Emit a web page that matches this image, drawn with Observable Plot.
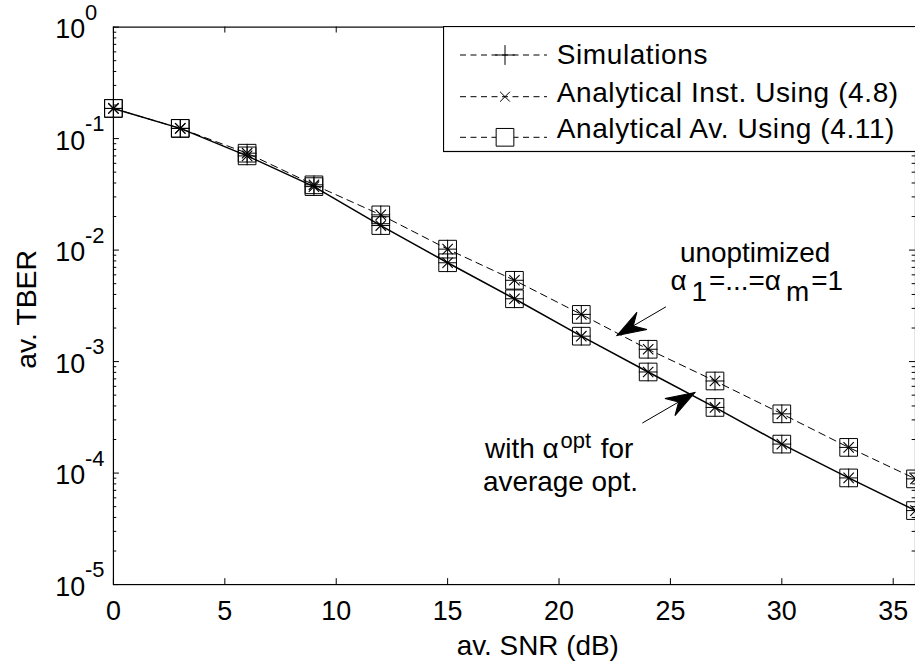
<!DOCTYPE html>
<html><head><meta charset="utf-8">
<script src="https://cdn.jsdelivr.net/npm/d3@7"></script>
<script src="https://cdn.jsdelivr.net/npm/@observablehq/plot@0.6"></script>
<style>
html,body{margin:0;padding:0;background:#fff;overflow:hidden;}
#wrap{position:relative;width:915px;height:668px;overflow:hidden;}
#wrap svg{display:block;}
#legend{position:absolute;left:443px;top:26px;}
</style></head><body><div id="wrap"></div>
<script>
// ---- data ----
const snr = [0, 3, 6, 9, 12, 15, 18, 21, 24, 27, 30, 33, 36];
// optimized (alpha_opt, solid curve) — simulation & both analytical results coincide
const berOpt = [0.1865, 0.1235, 0.0700, 0.0371, 0.0166, 0.0077, 0.00366, 0.00169, 0.000807, 0.000388, 0.000182, 0.0000905, 0.0000461];
// unoptimized (alpha_1=...=alpha_m=1, dashed curve)
const berUnopt = [0.1865, 0.1235, 0.0740, 0.0385, 0.0207, 0.0102, 0.00536, 0.00265, 0.00129, 0.00067, 0.00034, 0.00017, 0.0000887];
const seriesNames = ["Simulations", "Analytical Inst. Using (4.8)", "Analytical Av. Using (4.11)"];
const seriesSymbols = ["plus", "times", "square"];
const xTicks = [0, 5, 10, 15, 20, 25, 30, 35];
const yTicks = [1, 0.1, 0.01, 0.001, 0.0001, 0.00001];
const yTickBase = "10";
const yTickExp = ["0", "-1", "-2", "-3", "-4", "-5"];
const xLabel = "av. SNR (dB)";
const yLabel = "av. TBER";
// annotations (data coordinates)
const annCenterText = ["unoptimized"];
const annCenterX = [28.8];
const annCenterY = [0.00948];
const annStartText = ["α_{1}=...=α_{m}=1", "with α^{opt} for", "average opt."];
const annStartX = [25.0, 16.68, 16.59];
const annStartY = [0.00528, 0.000165, 0.0000832];
const arrowTail = [[24.8, 0.0031], [23.74, 0.000281]];
const arrowTip = [[22.6, 0.001718], [26.1, 0.000528]];
const arrowAngle = [149.8, -30.2];

// ---- build ----
const optRows = snr.map((s, i) => ({snr: s, ber: berOpt[i]}));
const unoptRows = snr.map((s, i) => ({snr: s, ber: berUnopt[i]}));
const allPts = optRows.concat(unoptRows);
const minorY = d3.range(-5, 0).flatMap(e => d3.range(2, 10).map(k => k * Math.pow(10, e)));
const arrows = arrowTail.map((t, i) => ({x1: t[0], y1: t[1], x2: arrowTip[i][0], y2: arrowTip[i][1], a: arrowAngle[i]}));
const annC = annCenterText.map((t, i) => ({t, x: annCenterX[i], y: annCenterY[i]}));
const annS = annStartText.map((t, i) => ({t, x: annStartX[i], y: annStartY[i]}));

const arrowHead = {
  draw(ctx) {
    const L = 29, W = 10, N = 19;
    ctx.moveTo(0, 0);
    ctx.lineTo(-L, -W);
    ctx.lineTo(-N, 0);
    ctx.lineTo(-L, W);
    ctx.closePath();
  }
};

const font = "'Liberation Sans', Arial, Helvetica, sans-serif";
const black = "black";

const chart = Plot.plot({
  width: 918, height: 668,
  marginLeft: 113.3, marginRight: 0, marginTop: 26.7, marginBottom: 82,
  x: {domain: [0, 36], axis: null},
  y: {type: "log", domain: [1e-5, 1], axis: null},
  style: {fontFamily: font, background: "white", color: "black", overflow: "visible"},
  marks: [
    // ticks (inward)
    Plot.ruleY(yTicks, {y: d => d, x1: 0, x2: 0.27, stroke: black}),
    Plot.ruleY(yTicks, {y: d => d, x1: 35.73, x2: 36, stroke: black}),
    Plot.ruleY(minorY, {y: d => d, x1: 0, x2: 0.15, stroke: black}),
    Plot.ruleY(minorY, {y: d => d, x1: 35.85, x2: 36, stroke: black}),
    Plot.ruleX(xTicks, {x: d => d, y1: 1e-5, y2: 1.13e-5, stroke: black}),
    Plot.ruleX(xTicks, {x: d => d, y1: 1, y2: 1 / 1.13, stroke: black}),
    // curves
    Plot.line(optRows, {x: "snr", y: "ber", stroke: black, strokeWidth: 1.5}),
    Plot.line(unoptRows, {x: "snr", y: "ber", stroke: black, strokeWidth: 1, strokeDasharray: "7,5"}),
    // markers of the three series
    Plot.dot(allPts, {x: "snr", y: "ber", symbol: "square", r: 10, fill: "none", stroke: black, strokeWidth: 1}),
    Plot.dot(allPts, {x: "snr", y: "ber", symbol: "plus", r: 6.1, stroke: black, strokeWidth: 1}),
    Plot.dot(allPts, {x: "snr", y: "ber", symbol: "times", r: 4.8, stroke: black, strokeWidth: 1.1}),
    Plot.frame({stroke: black, strokeWidth: 1.2}),
    // tick labels
    Plot.text(xTicks, {x: d => d, y: 1e-5, dy: 27, text: d => String(d), fontSize: 27, fill: black}),
    Plot.text(yTicks, {x: 0, y: d => d, text: () => yTickBase, textAnchor: "start", dx: -58.3, dy: 2.7, fontSize: 27, fill: black}),
    Plot.text(yTicks, {x: 0, y: d => d, text: (d, i) => yTickExp[i], textAnchor: "start", dx: -28.5, dy: -14.3, fontSize: 22, fill: black}),
    // axis labels
    Plot.text([xLabel], {frameAnchor: "bottom", lineAnchor: "middle", textAnchor: "middle", text: d => d, dx: 23.4, dy: 62, fontSize: 28, fill: black}),
    Plot.text([yLabel], {frameAnchor: "left", lineAnchor: "middle", textAnchor: "middle", text: d => d, rotate: -90, dx: -87, dy: 3.6, fontSize: 28.5, fill: black}),
    // annotations
    Plot.link(arrows, {x1: "x1", y1: "y1", x2: "x2", y2: "y2", stroke: black, strokeWidth: 1}),
    Plot.dot(arrows, {x: "x2", y: "y2", rotate: "a", symbol: arrowHead, fill: black, stroke: black, strokeWidth: 1, r: 5}),
    Plot.text(annC, {x: "x", y: "y", text: "t", textAnchor: "middle", lineAnchor: "middle", fontSize: 28, fill: black}),
    Plot.text(annS, {x: "x", y: "y", text: "t", textAnchor: "start", lineAnchor: "middle", fontSize: 28, fill: black})
  ]
});

// rich text: _{sub} and ^{sup}
function richify(root) {
  d3.select(root).selectAll("text").each(function () {
    const s = this.textContent;
    if (!/[_^]\{/.test(s)) return;
    const parts = s.split(/([_^]\{[^}]*\})/).filter(p => p);
    this.textContent = "";
    let shift = 0;
    for (const p of parts) {
      const m = p.match(/^([_^])\{([^}]*)\}$/);
      const t = d3.select(this).append("tspan");
      if (m) {
        const target = m[1] === "_" ? 11 : -10;
        t.attr("dy", target - shift).attr("dx", m[1] === "_" ? 5 : 2).text(m[2]);
        if (m[1] === "^") t.attr("font-size", 22);
        shift = target;
      } else {
        t.attr("dy", -shift).text(p);
        if (shift) t.attr("dx", 2);
        shift = 0;
      }
    }
  });
}
richify(chart);
document.getElementById("wrap").appendChild(chart);

// legend box
const lg = d3.select("#wrap").append("svg").attr("id", "legend")
  .attr("width", 480).attr("height", 127)
  .style("font-family", font);
lg.append("rect").attr("x", 0.5).attr("y", 0.5).attr("width", 520).attr("height", 125)
  .attr("fill", "white").attr("stroke", "black").attr("stroke-width", 1.2);
const rowMarkY = [29, 70.7, 111.3];
const rowTextY = [38, 75.7, 112];
const symSize = {plus: 130, times: 65, square: 313};
const symType = {plus: d3.symbolPlus, times: d3.symbolTimes, square: d3.symbolSquare};
seriesNames.forEach((name, i) => {
  const y = rowMarkY[i];
  lg.append("line").attr("x1", 17).attr("x2", 104).attr("y1", y).attr("y2", y)
    .attr("stroke", "black").attr("stroke-width", 1).attr("stroke-dasharray", "6,4.5");
  const sym = seriesSymbols[i];
  lg.append("path").attr("d", d3.symbol(symType[sym], symSize[sym])())
    .attr("transform", `translate(62,${y})`)
    .attr("fill", sym === "square" ? "white" : "none").attr("stroke", "black").attr("stroke-width", 1);
  lg.append("text").attr("x", 113.7).attr("y", rowTextY[i]).attr("font-size", 28)
    .attr("letter-spacing", 0.6).attr("fill", "black").text(name);
});
</script></body></html>
